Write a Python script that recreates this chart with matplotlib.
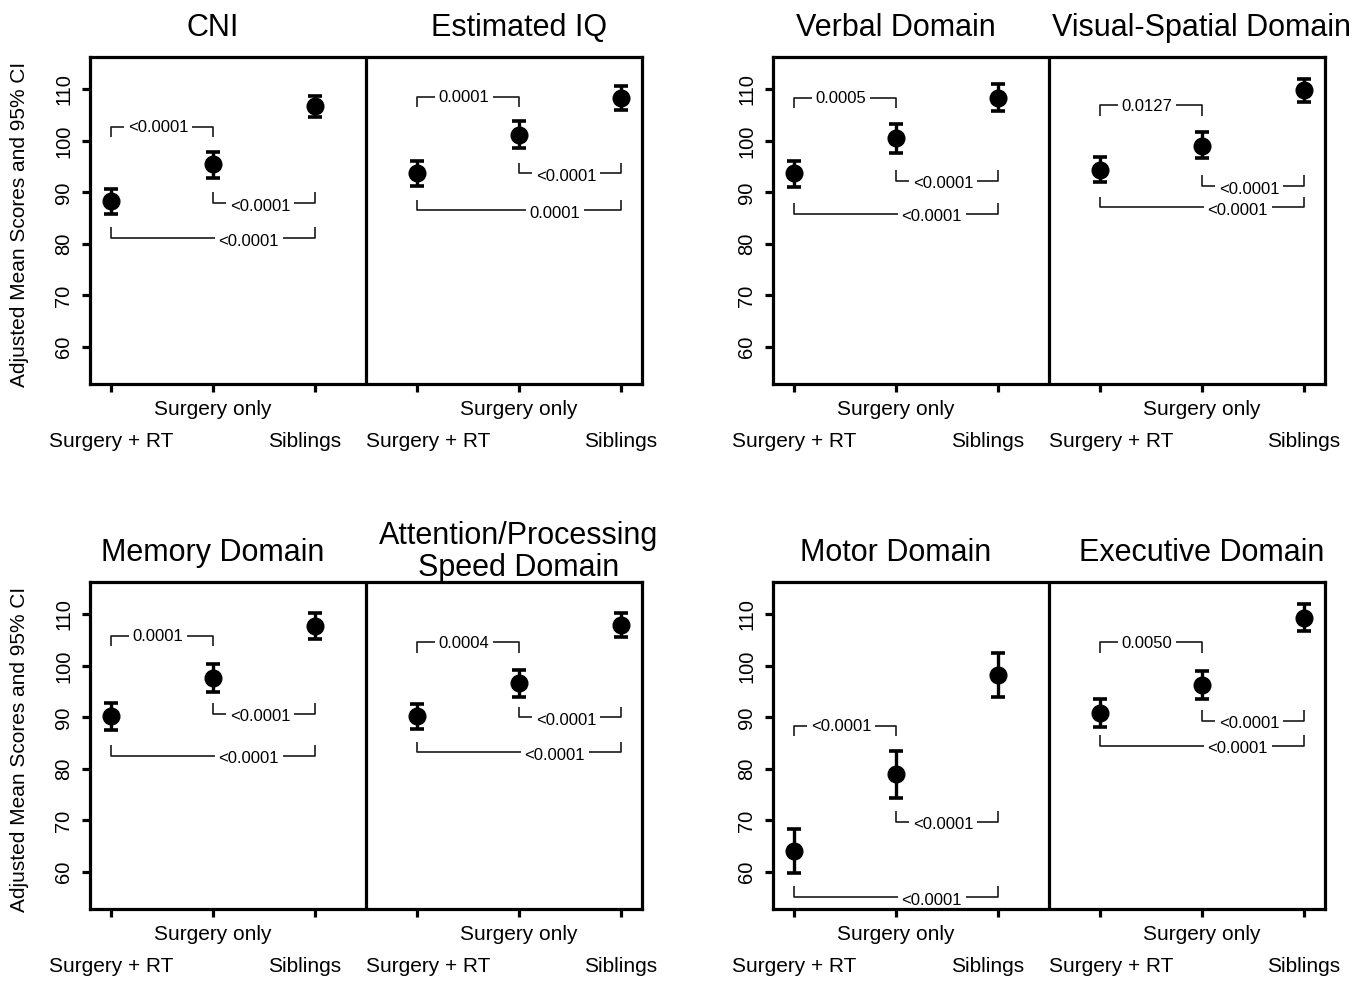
import matplotlib
matplotlib.use("Agg")
import matplotlib.pyplot as plt

plt.rcParams['font.family'] = ['Liberation Sans', 'DejaVu Sans']

W, H = 1365, 983

# ---------------- data ----------------
groups = ["Surgery + RT", "Surgery only", "Siblings"]

titles = ["CNI", "Estimated IQ", "Verbal Domain", "Visual-Spatial Domain",
          "Memory Domain", "Attention/Processing\nSpeed Domain",
          "Motor Domain", "Executive Domain"]

cni_mean = [88.3, 95.5, 106.8]
cni_lo = [85.9, 92.9, 104.6]
cni_hi = [90.6, 97.8, 108.7]

iq_mean = [93.8, 101.2, 108.4]
iq_lo = [91.2, 98.7, 106.0]
iq_hi = [96.2, 103.8, 110.7]

verbal_mean = [93.7, 100.5, 108.4]
verbal_lo = [91.1, 97.7, 105.8]
verbal_hi = [96.2, 103.3, 111.0]

visual_mean = [94.4, 99.1, 109.8]
visual_lo = [92.0, 96.6, 107.6]
visual_hi = [96.9, 101.7, 112.1]

memory_mean = [90.2, 97.7, 107.7]
memory_lo = [87.6, 95.0, 105.2]
memory_hi = [92.8, 100.4, 110.2]

attention_mean = [90.2, 96.6, 107.9]
attention_lo = [87.8, 94.0, 105.6]
attention_hi = [92.6, 99.2, 110.2]

motor_mean = [64.0, 79.0, 98.3]
motor_lo = [59.7, 74.4, 94.0]
motor_hi = [68.3, 83.5, 102.5]

executive_mean = [90.8, 96.3, 109.4]
executive_lo = [88.2, 93.6, 106.8]
executive_hi = [93.5, 99.1, 112.0]

# p-values: [Surg+RT vs Surg only, Surg only vs Siblings, Surg+RT vs Siblings]
cni_p = ["<0.0001", "<0.0001", "<0.0001"]
iq_p = ["0.0001", "<0.0001", "0.0001"]
verbal_p = ["0.0005", "<0.0001", "<0.0001"]
visual_p = ["0.0127", "<0.0001", "<0.0001"]
memory_p = ["0.0001", "<0.0001", "<0.0001"]
attention_p = ["0.0004", "<0.0001", "<0.0001"]
motor_p = ["<0.0001", "<0.0001", "<0.0001"]
executive_p = ["0.0050", "<0.0001", "<0.0001"]

# bracket heights (score units) for the three comparisons
cni_br = [102.8, 87.9, 81.1]
iq_br = [108.6, 93.7, 86.5]
verbal_br = [108.4, 92.3, 85.9]
visual_br = [106.9, 91.2, 87.1]
memory_br = [105.9, 90.7, 82.6]
attention_br = [104.6, 90.0, 83.2]
motor_br = [88.4, 69.7, 55.1]
executive_br = [104.6, 89.4, 84.5]

yticks = [60, 70, 80, 90, 100, 110]

means = [cni_mean, iq_mean, verbal_mean, visual_mean,
         memory_mean, attention_mean, motor_mean, executive_mean]
los = [cni_lo, iq_lo, verbal_lo, visual_lo,
       memory_lo, attention_lo, motor_lo, executive_lo]
his = [cni_hi, iq_hi, verbal_hi, visual_hi,
       memory_hi, attention_hi, motor_hi, executive_hi]
pvals = [cni_p, iq_p, verbal_p, visual_p,
         memory_p, attention_p, motor_p, executive_p]
brs = [cni_br, iq_br, verbal_br, visual_br,
       memory_br, attention_br, motor_br, executive_br]

# ---------------- layout ----------------
fig = plt.figure(figsize=(W / 100, H / 100), dpi=100)

# (left px, top px) for each pair of panels
rects = [(90, 57), (773, 57), (90, 582), (773, 582)]
AW, AH = 552, 327
ylab_pairs = [0, 2]

BR_H = 2.1


def bracket(ax, x1, x2, y, text, up, tx, dy):
    yend = y + BR_H if up else y - BR_H
    ax.plot([x1, x1, x2, x2], [yend, y, y, yend], color='#1a1a1a', lw=1.2,
            zorder=1.5, solid_capstyle='butt')
    ax.annotate(text, xy=(tx, y), xytext=(0, dy), textcoords='offset pixels',
                ha='center', va='center', fontsize=12, color='black',
                zorder=1.8,
                bbox=dict(boxstyle='square,pad=0.22', fc='white', ec='none'))


for p, (lpx, tpx) in enumerate(rects):
    ax = fig.add_axes([lpx / W, 1 - (tpx + AH) / H, AW / W, AH / H])
    ax.set_xlim(1 - 21 / 102, 6 + 21 / 102)
    ax.set_ylim(52.8, 116.3)
    for s in ax.spines.values():
        s.set_linewidth(2.3)
        s.set_zorder(2.5)
    ax.axvline(3.5, color='black', lw=2.3, zorder=2.5)

    all_x = []
    for k in range(2):
        d = 2 * p + k
        off = 3 * k
        xs = [1 + off, 2 + off, 3 + off]
        all_x += xs
        m = means[d]
        lo = los[d]
        hi = his[d]
        yerr = [[m[i] - lo[i] for i in range(3)], [hi[i] - m[i] for i in range(3)]]
        ax.errorbar(xs, m, yerr=yerr, fmt='o', color='black', ms=12,
                    elinewidth=2.4, capsize=5.2, capthick=2.6, zorder=3)
        pv = pvals[d]
        br = brs[d]
        bracket(ax, xs[0], xs[1], br[0], pv[0], False, xs[0] + 0.46, -1)
        bracket(ax, xs[1], xs[2], br[1], pv[1], True, xs[1] + 0.46, -3)
        bracket(ax, xs[0], xs[2], br[2], pv[2], True, xs[0] + 1.35, -3)

        # title
        lines = titles[d].split("\n")
        n = len(lines)
        base = 21 if n == 1 else 6
        for i, line in enumerate(lines):
            ax.annotate(line, xy=(xs[1], 1), xycoords=('data', 'axes fraction'),
                        xytext=(0, base + (n - 1 - i) * 32),
                        textcoords='offset pixels', ha='center', va='baseline',
                        fontsize=22, annotation_clip=False)

        # x group labels
        shifts = [0, 0, -10] if k == 0 else [11, 0, 0]
        for i, g in enumerate(groups):
            yoff = -26 if i == 1 else -58
            ax.annotate(g, xy=(xs[i], 0), xycoords=('data', 'axes fraction'),
                        xytext=(shifts[i], yoff), textcoords='offset pixels',
                        ha='center', va='center', fontsize=15,
                        annotation_clip=False)

    ax.set_xticks(all_x)
    ax.set_xticklabels([])
    ax.set_yticks(yticks)
    ax.set_yticklabels([str(t) for t in yticks], rotation=90, va='center')
    ax.tick_params(axis='both', direction='out', length=6, width=2.3,
                   labelsize=14.5, color='black')
    ax.tick_params(axis='y', pad=6)

    if p in ylab_pairs:
        fig.text(20 / W, 1 - (tpx + AH / 2 + 4) / H,
                 "Adjusted Mean Scores and 95% CI", rotation=90,
                 ha='center', va='center', fontsize=15)

fig.savefig("out.png", dpi=100, facecolor='white')
